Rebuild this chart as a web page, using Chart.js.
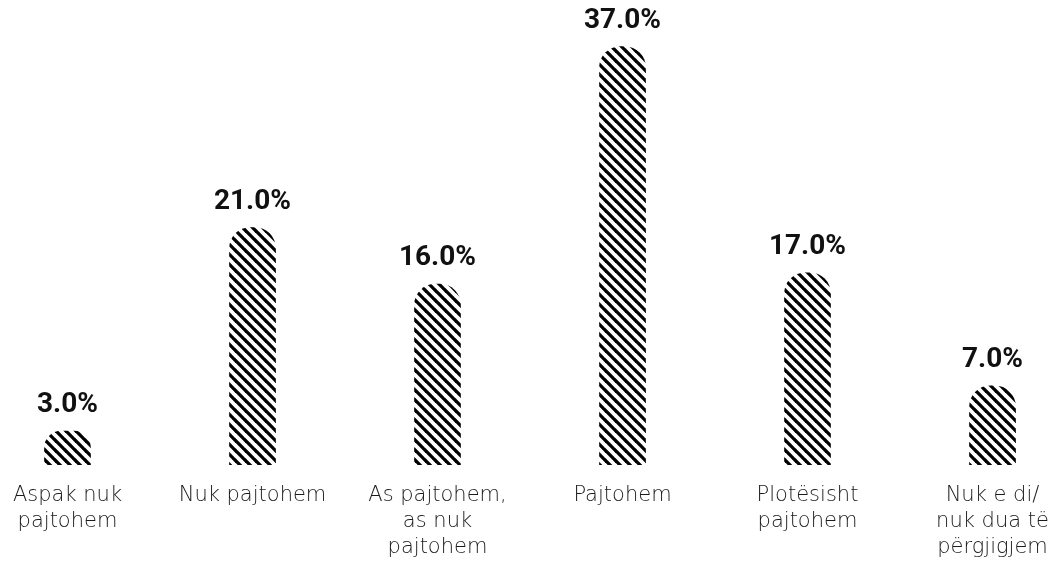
<!DOCTYPE html>
<html>
<head>
<meta charset="utf-8">
<script src="https://cdn.jsdelivr.net/npm/chart.js@4.4.1/dist/chart.umd.min.js"></script>
<style>
  html, body { margin: 0; padding: 0; background: #fff; overflow: hidden; }
  #wrap { position: relative; width: 1110px; height: 568px; margin-left: -25px; }
</style>
</head>
<body>
<div id="wrap"><canvas id="chart"></canvas></div>
<script>
// categories and values (percent)
const categories = [
  ['Aspak nuk', 'pajtohem'],
  'Nuk pajtohem',
  ['As pajtohem,', 'as nuk', 'pajtohem'],
  'Pajtohem',
  ['Plotësisht', 'pajtohem'],
  ['Nuk e di/', 'nuk dua të', 'përgjigjem']
];
const values = [3.0, 21.0, 16.0, 37.0, 17.0, 7.0];

// diagonal stripe fill
function makeStripes() {
  const s = 10;
  const c = document.createElement('canvas');
  c.width = s; c.height = s;
  const g = c.getContext('2d');
  g.strokeStyle = '#000';
  g.lineWidth = 3.3;
  for (let k = -1; k <= 1; k++) {
    g.beginPath();
    g.moveTo(-1, k * s - 1);
    g.lineTo(s + 1, s + k * s + 1);
    g.stroke();
  }
  return g.createPattern(c, 'repeat');
}

// value labels above bars
const valueLabels = {
  id: 'valueLabels',
  afterDatasetsDraw(chart) {
    const ctx = chart.ctx;
    const meta = chart.getDatasetMeta(0);
    ctx.save();
    ctx.font = 'bold 28px Roboto, sans-serif';
    ctx.fillStyle = '#111';
    ctx.textAlign = 'center';
    ctx.textBaseline = 'alphabetic';
    meta.data.forEach((bar, i) => {
      ctx.fillText(values[i].toFixed(1) + '%', bar.x, bar.y - 19);
    });
    ctx.restore();
  }
};

new Chart(document.getElementById('chart'), {
  type: 'bar',
  data: {
    labels: categories,
    datasets: [{
      data: values,
      backgroundColor: makeStripes(),
      borderWidth: 0,
      borderSkipped: 'bottom',
      borderRadius: { topLeft: 21, topRight: 21, bottomLeft: 0, bottomRight: 0 },
      barThickness: 46
    }]
  },
  options: {
    responsive: true,
    maintainAspectRatio: false,
    animation: false,
    layout: { padding: { top: 24, left: 0, right: 0, bottom: 0 } },
    plugins: { legend: { display: false }, tooltip: { enabled: false } },
    scales: {
      x: {
        grid: { display: false, drawTicks: false },
        border: { display: false },
        ticks: {
          color: '#1a1a1a',
          padding: 17,
          maxRotation: 0,
          autoSkip: false,
          font: { family: '"DejaVu Sans", sans-serif', size: 21, weight: '200', lineHeight: 1.25 }
        },
        afterFit(scale) { scale.height = 103; }
      },
      y: {
        display: false,
        min: 0,
        max: 39
      }
    }
  },
  plugins: [valueLabels]
});
</script>
</body>
</html>
